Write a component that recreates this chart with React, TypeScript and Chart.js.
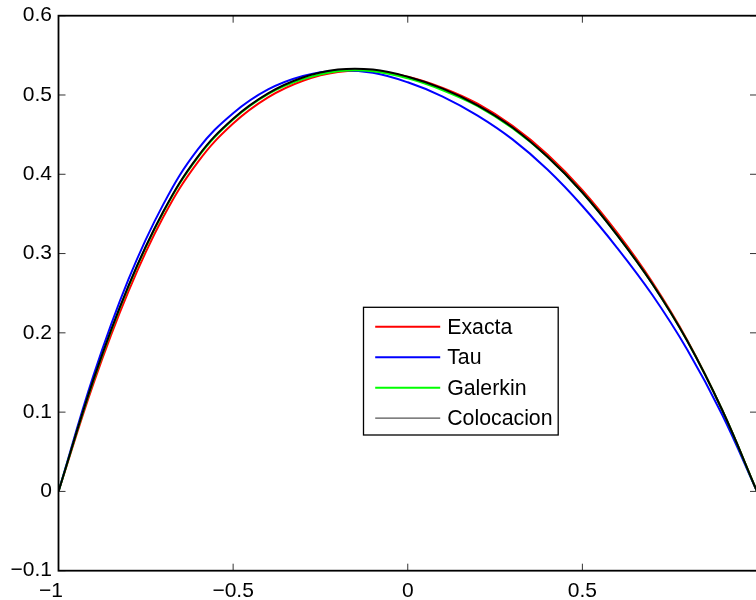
import React, { useEffect, useRef } from "react";
import { Chart, registerables } from "chart.js";

Chart.register(...registerables);

// ---- data ----
const xValues = [-1, -0.9, -0.8, -0.7, -0.6, -0.5, -0.4, -0.3, -0.2, -0.1, 0, 0.1, 0.2, 0.3, 0.4, 0.5, 0.6, 0.7, 0.8, 0.9, 1];
const exacta = [0, 0.136, 0.252, 0.346, 0.416, 0.464, 0.497, 0.518, 0.529, 0.53, 0.523, 0.509, 0.489, 0.461, 0.425, 0.38, 0.326, 0.264, 0.191, 0.103, 0];
const tau = [0, 0.146, 0.267, 0.362, 0.432, 0.477, 0.507, 0.524, 0.531, 0.528, 0.516, 0.498, 0.474, 0.444, 0.406, 0.36, 0.307, 0.248, 0.179, 0.097, 0];
const galerkin = [0, 0.14, 0.258, 0.352, 0.422, 0.469, 0.501, 0.52, 0.53, 0.53, 0.521, 0.506, 0.486, 0.458, 0.422, 0.377, 0.323, 0.262, 0.19, 0.103, 0];
const colocacion = [0, 0.141, 0.259, 0.353, 0.423, 0.47, 0.502, 0.522, 0.532, 0.532, 0.523, 0.508, 0.487, 0.459, 0.422, 0.377, 0.323, 0.262, 0.19, 0.103, 0];

const seriesLabels = ["Exacta", "Tau", "Galerkin", "Colocacion"];
const seriesValues = [exacta, tau, galerkin, colocacion];
const seriesColors = ["#ff0000", "#0000ff", "#00ff00", "#000000"];
const legendLineColors = ["#ff0000", "#0000ff", "#00ff00", "#555555"];

// the tick at x = 1 sits on the cut-off right edge; its label is not visible in the reference
const xTicks = [-1, -0.5, 0, 0.5, 1];
const xTickLabels = ["\u22121", "\u22120.5", "0", "0.5", ""];
const yTicks = [-0.1, 0, 0.1, 0.2, 0.3, 0.4, 0.5, 0.6];

const FONT = '"Liberation Sans", Arial, Helvetica, sans-serif';

function fmt(v: number): string {
  const r = Math.round(v * 100) / 100;
  const s = String(Math.abs(r));
  return r < 0 ? "\u2212" + s : s;
}

const framePlugin = {
  id: "matlabFrame",
  afterDraw(chart: any) {
    const { ctx, chartArea: a, scales } = chart;
    ctx.save();
    // inward tick marks on all four sides
    ctx.strokeStyle = "#333";
    ctx.lineWidth = 1;
    const tl = 7;
    for (const v of yTicks) {
      const y = scales.y.getPixelForValue(v);
      ctx.beginPath();
      ctx.moveTo(a.left, y);
      ctx.lineTo(a.left + tl, y);
      ctx.moveTo(a.right, y);
      ctx.lineTo(a.right - tl, y);
      ctx.stroke();
    }
    for (const v of xTicks) {
      const x = scales.x.getPixelForValue(v);
      ctx.beginPath();
      ctx.moveTo(x, a.bottom);
      ctx.lineTo(x, a.bottom - tl);
      ctx.moveTo(x, a.top);
      ctx.lineTo(x, a.top + tl);
      ctx.stroke();
    }
    // box
    ctx.strokeStyle = "#000";
    ctx.lineWidth = 1.8;
    ctx.strokeRect(a.left, a.top, a.right - a.left, a.bottom - a.top);

    // x tick labels (the first one sits a little left, as in the reference)
    ctx.fillStyle = "#000";
    ctx.font = "21px " + FONT;
    ctx.textAlign = "center";
    ctx.textBaseline = "alphabetic";
    xTicks.forEach((v, i) => {
      const x = scales.x.getPixelForValue(v) + (i === 0 ? -7.5 : 0);
      ctx.fillText(xTickLabels[i], x, a.bottom + 26.5);
    });

    // legend
    const lx = a.left + 305;
    const ly = a.top + 291.6;
    const lw = 194.7;
    const lh = 127.7;
    ctx.fillStyle = "#fff";
    ctx.fillRect(lx, ly, lw, lh);
    ctx.strokeStyle = "#000";
    ctx.lineWidth = 1.3;
    ctx.strokeRect(lx, ly, lw, lh);
    ctx.font = "21.3px " + FONT;
    ctx.textBaseline = "middle";
    ctx.textAlign = "left";
    seriesLabels.forEach((label, i) => {
      const cy = ly + 19.4 + i * 30.5;
      ctx.strokeStyle = legendLineColors[i];
      ctx.lineWidth = i === 3 ? 1.3 : 2;
      ctx.beginPath();
      ctx.moveTo(lx + 11.7, cy);
      ctx.lineTo(lx + 76.7, cy);
      ctx.stroke();
      ctx.fillStyle = "#000";
      ctx.fillText(label, lx + 83.7, cy + 1);
    });
    ctx.restore();
  },
};

export default function App() {
  const ref = useRef<HTMLCanvasElement | null>(null);

  useEffect(() => {
    const canvas = ref.current;
    if (!canvas) return;
    const datasets = seriesLabels.map((label, i) => ({
      label,
      data: xValues.map((x, j) => ({ x, y: seriesValues[i][j] })),
      borderColor: seriesColors[i],
      backgroundColor: seriesColors[i],
      borderWidth: 2,
      pointRadius: 0,
      tension: 0.4,
      fill: false,
      order: 3 - i,
    }));
    const chart = new Chart(canvas, {
      type: "line",
      data: { datasets },
      plugins: [framePlugin],
      options: {
        responsive: false,
        animation: false,
        devicePixelRatio: 1,
        layout: { padding: { top: 15.7, right: 13, left: 0, bottom: 0 } },
        plugins: { legend: { display: false }, tooltip: { enabled: false } },
        scales: {
          x: {
            type: "linear",
            min: -1,
            max: 1,
            offset: false,
            grid: { display: false, drawTicks: false },
            border: { display: false },
            afterBuildTicks: (s: any) => {
              s.ticks = xTicks.map((v) => ({ value: v }));
            },
            afterFit: (s: any) => {
              s.height = 29.3;
              s.paddingLeft = 0;
              s.paddingRight = 0;
            },
            ticks: { display: false },
          },
          y: {
            type: "linear",
            min: -0.1,
            max: 0.6,
            grid: { display: false, drawTicks: false },
            border: { display: false },
            afterBuildTicks: (s: any) => {
              s.ticks = yTicks.map((v) => ({ value: v }));
            },
            afterFit: (s: any) => {
              s.width = 58.5;
              s.paddingTop = 0;
              s.paddingBottom = 0;
            },
            ticks: {
              autoSkip: false,
              padding: 6.5,
              color: "#000",
              font: { family: FONT, size: 21 },
              callback: (v: any) => fmt(Number(v)),
            },
          },
        },
      },
    });
    return () => chart.destroy();
  }, []);

  return (
    <div style={{ position: "fixed", left: 0, top: 0, width: 756, height: 600, overflow: "hidden", background: "#fff" }}>
      <canvas ref={ref} width={770} height={600} style={{ display: "block", width: 770, height: 600 }} />
    </div>
  );
}
